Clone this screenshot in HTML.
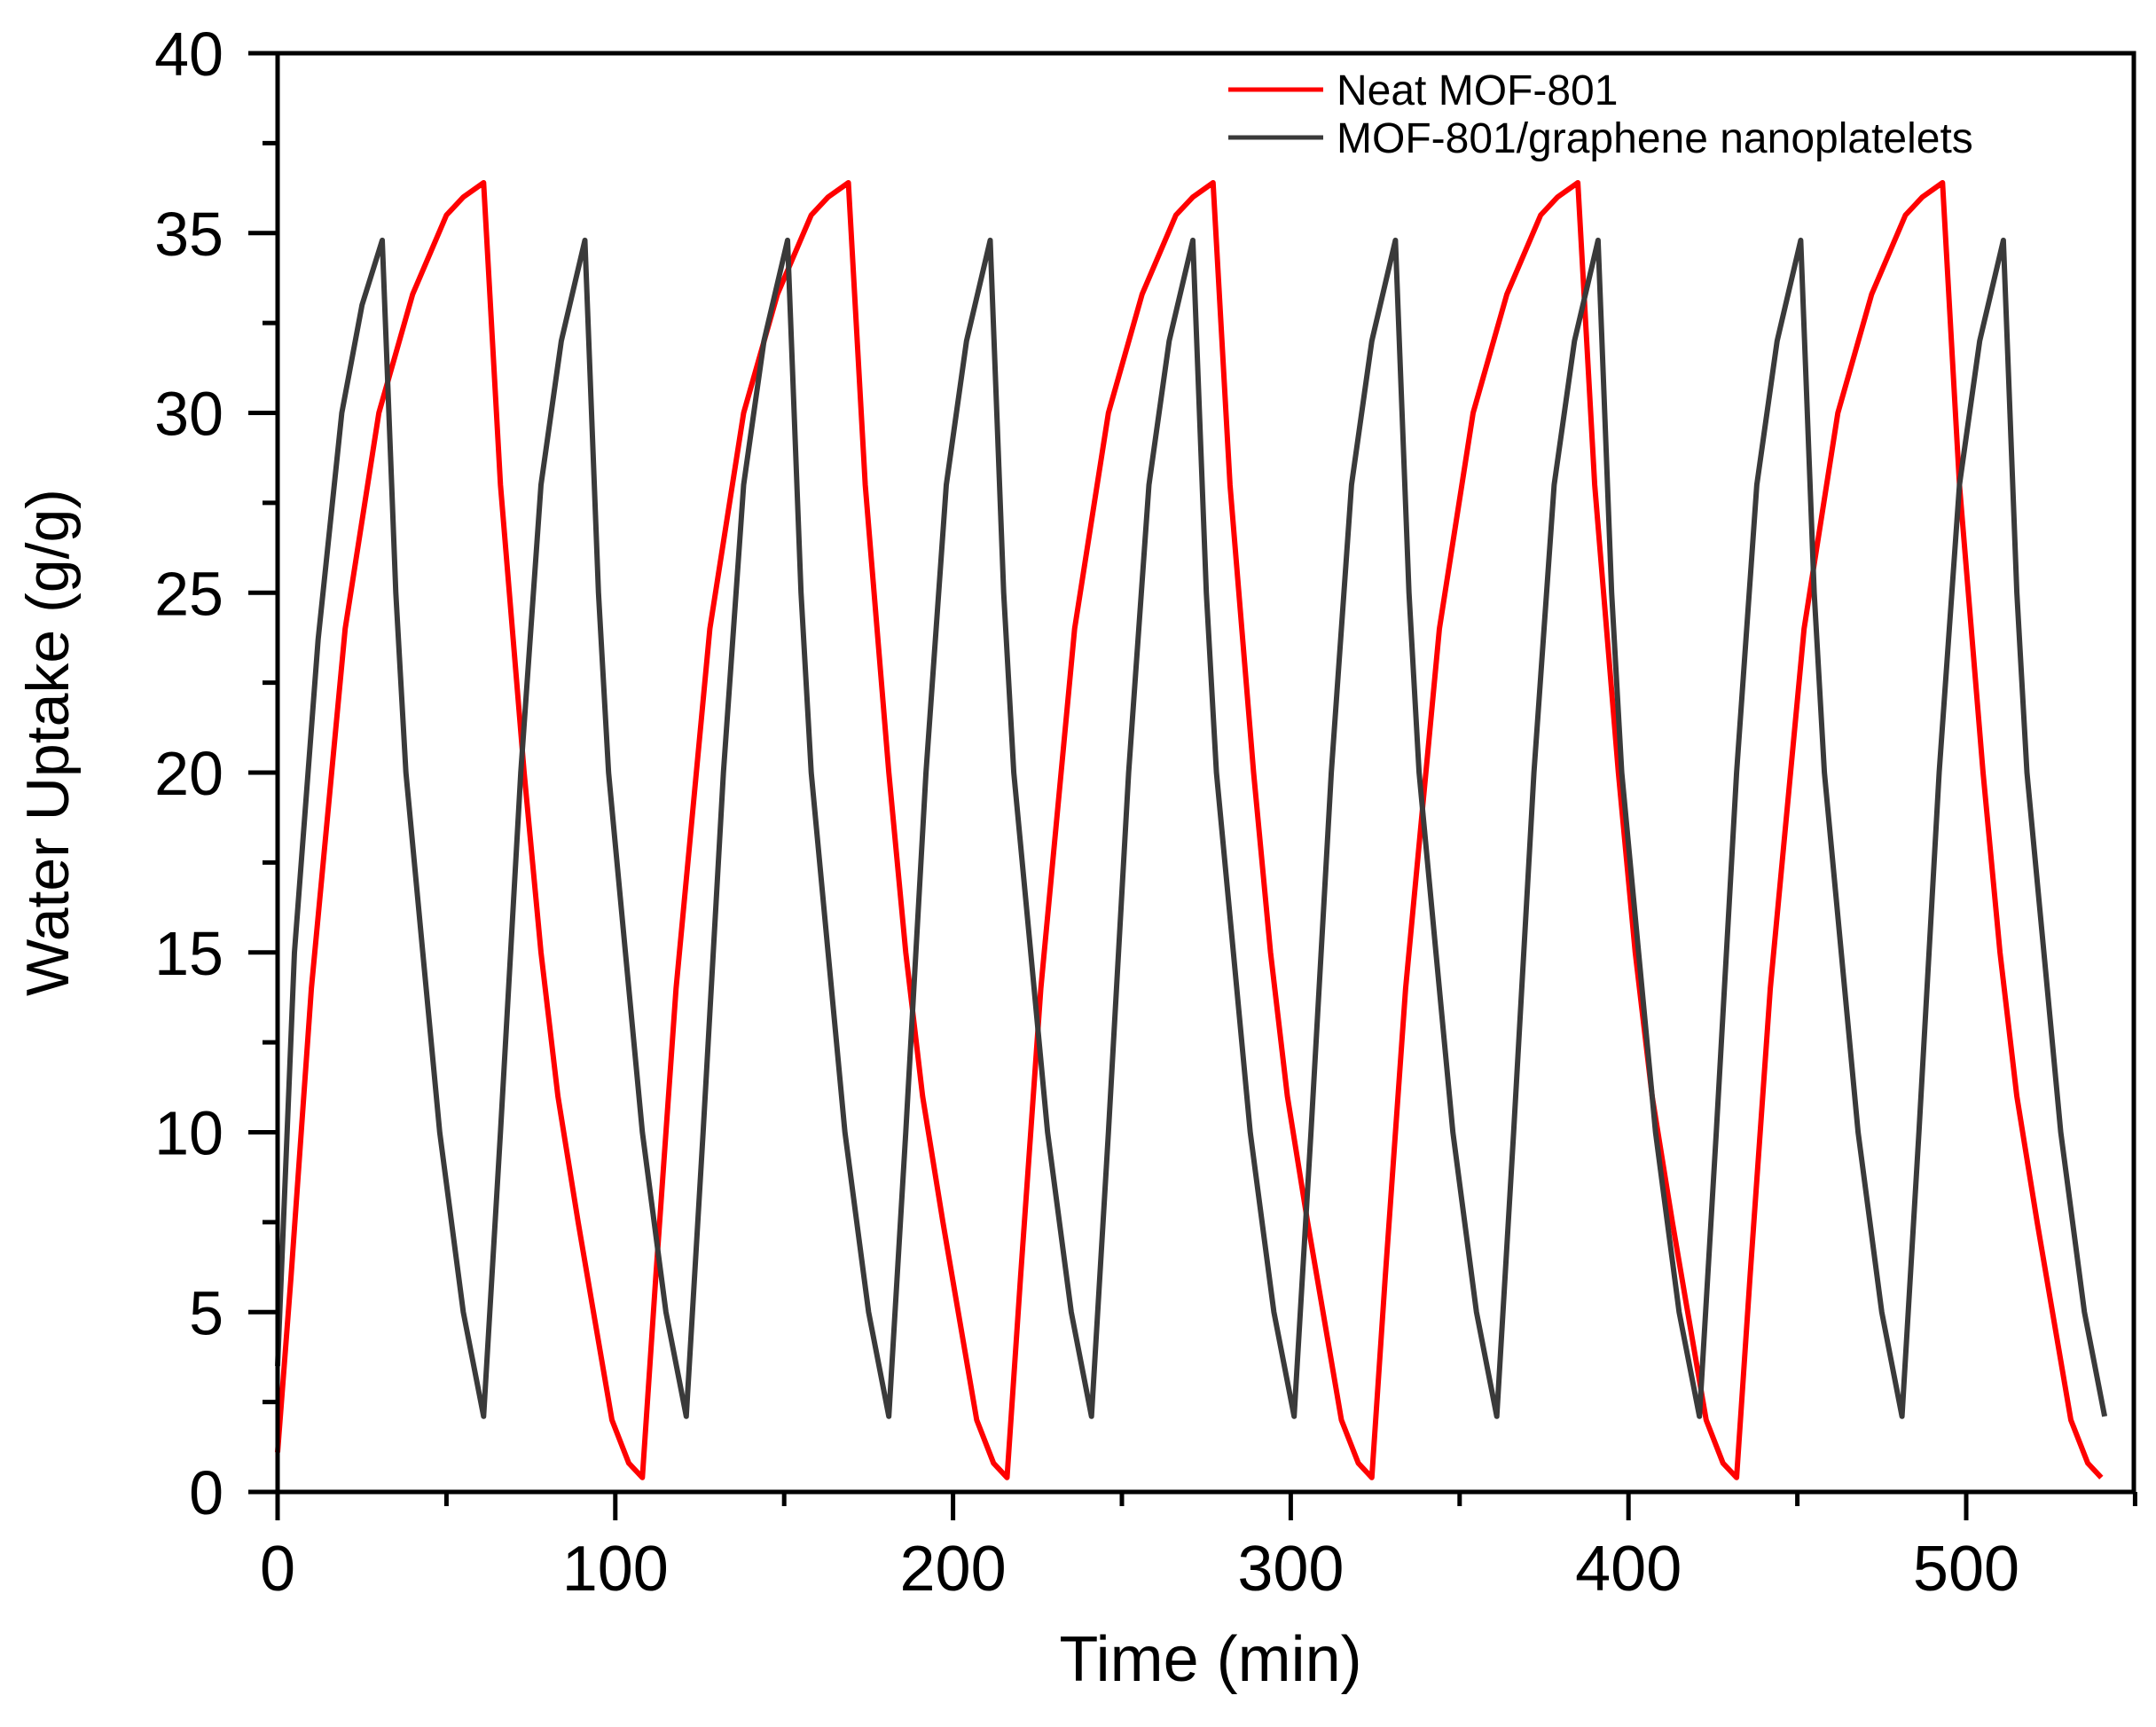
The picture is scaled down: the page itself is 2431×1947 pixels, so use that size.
<!DOCTYPE html>
<html><head><meta charset="utf-8"><style>
html,body{margin:0;padding:0;background:#fff}
svg{display:block}
text{font-family:"Liberation Sans",Arial,sans-serif;fill:#000}
</style></head><body>
<svg id="s" width="2431" height="1947" viewBox="0 0 2431 1947" xmlns="http://www.w3.org/2000/svg">
<g id="ticks"></g>
<polyline id="red" fill="none" stroke="#ff0000" stroke-width="6" stroke-linejoin="round"/>
<polyline id="blk" fill="none" stroke="#3a3a3a" stroke-width="6" stroke-linejoin="round"/>
<rect x="313" y="60" width="2093" height="1622" fill="none" stroke="#000" stroke-width="5"/>
<text x="59" y="837" font-size="68" text-anchor="middle" transform="rotate(-90 59 837)" dominant-baseline="middle">Water Uptake (g/g)</text>
<text x="1365" y="1895" font-size="72" text-anchor="middle">Time (min)</text>
<line x1="1385" y1="101" x2="1492" y2="101" stroke="#ff0000" stroke-width="5"/>
<text x="1507" y="118" font-size="48">Neat MOF-801</text>
<line x1="1385" y1="155" x2="1492" y2="155" stroke="#3a3a3a" stroke-width="5"/>
<text x="1507" y="172" font-size="48">MOF-801/graphene nanoplatelets</text>
</svg>
<script>
var X=function(t){return 313+t*3.808}, Y=function(v){return 1682-v*40.55};
var NS="http://www.w3.org/2000/svg",g=document.getElementById("ticks");
function el(n,a){var e=document.createElementNS(NS,n);for(var k in a)e.setAttribute(k,a[k]);g.appendChild(e);return e;}
for(var v=0;v<=40;v+=2.5){var maj=(v%5==0);el("line",{x1:313-(maj?33:17),x2:313,y1:Y(v),y2:Y(v),stroke:"#000","stroke-width":5});
 if(maj){var t=el("text",{x:252,y:Y(v)+25,"font-size":70,"text-anchor":"end"});t.textContent=v;}}
for(var t0=0;t0<=550;t0+=50){var maj=(t0%100==0);el("line",{x1:X(t0),x2:X(t0),y1:1682,y2:1682+(maj?32:16),stroke:"#000","stroke-width":5});
 if(maj){var tt=el("text",{x:X(t0),y:1793,"font-size":72,"text-anchor":"middle"});tt.textContent=t0;}}
// black: period 60
var bk=[];
var rise=[[0,2.1],[5,10],[11,20],[17,28],[23,32],[30,34.8]];
var fall=[[4,25],[7,20],[12,15],[17,10],[24,5],[30,2.1]];
bk.push([0,3.5],[5,15],[12,23.7],[19,30],[25,33],[31,34.8]);
for(var c=0;c<9;c++){var p=31+60*c;
 fall.forEach(function(q){bk.push([p+q[0],q[1]]);});
 if(c<8){var tr=p+30;rise.slice(1).forEach(function(q){bk.push([tr+q[0],q[1]]);});}}
// red: period 108
var rd=[];
var rr=[[0,0.4],[4,6],[10,14],[20,24],[30,30],[40,33.3],[50,35.5],[55,36],[61,36.4]];
var rf=[[5,28],[12,20],[17,15],[22,11],[28,7.5],[32,5.3],[38,2],[43,0.8],[47,0.4]];
rd.push([0,1.1]);rr.slice(1).forEach(function(q){rd.push([q[0],q[1]]);});
for(var c=0;c<5;c++){var p=61+108*c;
 rf.forEach(function(q){rd.push([p+q[0],q[1]]);});
 if(c<4){var tr=p+47;rr.slice(1).forEach(function(q){rd.push([tr+q[0],q[1]]);});}}
function pts(a){return a.map(function(q){return X(q[0]).toFixed(1)+","+Y(q[1]).toFixed(1)}).join(" ");}
document.getElementById("red").setAttribute("points",pts(rd));
document.getElementById("blk").setAttribute("points",pts(bk));
</script>
</body></html>
